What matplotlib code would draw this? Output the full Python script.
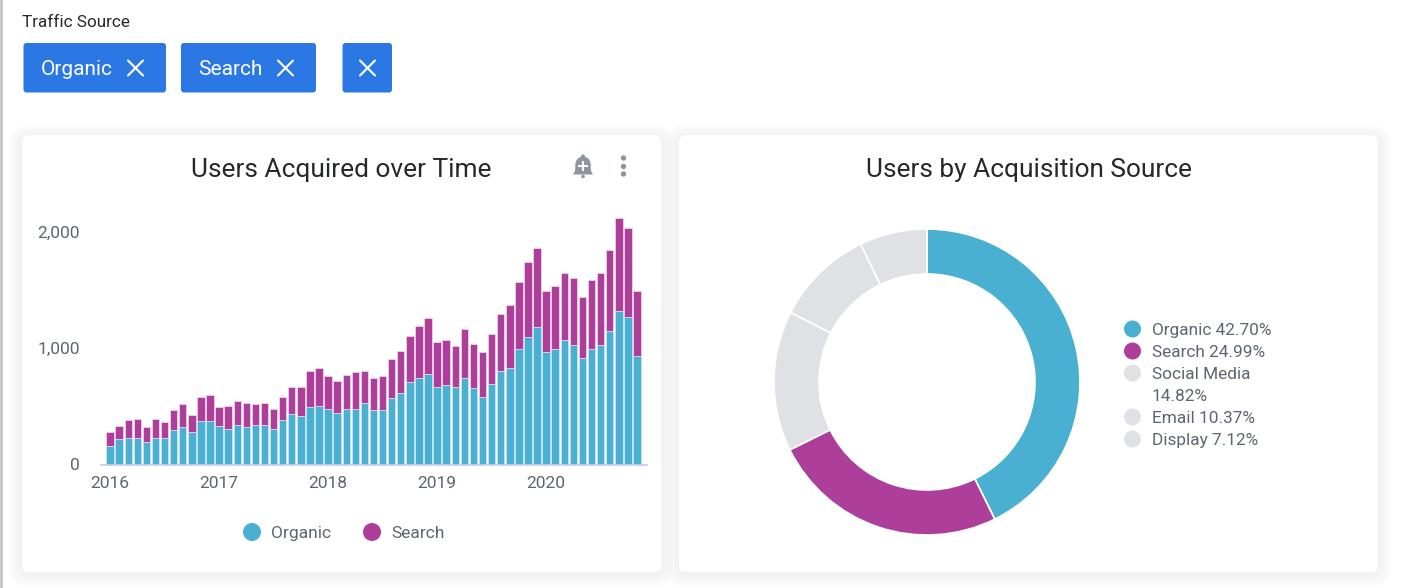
import matplotlib
matplotlib.use('Agg')
import matplotlib.pyplot as plt
from matplotlib.patches import FancyBboxPatch, Circle, Polygon, Rectangle
from matplotlib.transforms import ScaledTranslation
import numpy as np

W, H = 1403, 588

organic = [158, 219, 233, 233, 196, 233, 233, 297, 320, 282, 372, 372,
           334, 308, 343, 320, 343, 343, 308, 383, 435, 421, 496, 507,
           481, 447, 481, 481, 533, 470, 470, 571, 622, 709, 746, 784,
           671, 683, 671, 746, 660, 582, 697, 810, 836, 997, 1098, 1187,
           971, 997, 1072, 1037, 922, 997, 1037, 1150, 1326, 1274, 937]
search = [124, 112, 150, 161, 124, 161, 138, 173, 202, 150, 213, 225,
          161, 199, 205, 213, 179, 190, 173, 202, 236, 251, 314, 329,
          280, 274, 291, 317, 277, 277, 291, 340, 363, 403, 452, 478,
          389, 389, 352, 429, 378, 392, 427, 490, 539, 579, 654, 680,
          530, 542, 579, 576, 527, 594, 614, 703, 804, 769, 565]
year_labels = ['2016', '2017', '2018', '2019', '2020']
year_ticks = [0, 12, 24, 36, 48]
y_ticks = [0, 1000, 2000]

sources = ['Organic', 'Search', 'Social Media', 'Email', 'Display']
shares = [42.70, 24.99, 14.82, 10.37, 7.12]

BLUE = '#4ab0d1'
PURPLE = '#ad3f9a'
GRAY = '#e0e1e5'
CHIP = '#2b78e4'
TEXT = '#26282c'
MUTED = '#5f6570'

plt.rcParams['font.family'] = ['Roboto', 'DejaVu Sans']

fig = plt.figure(figsize=(W / 100, H / 100), dpi=100, facecolor='white')


def px_axes(left, top, right, bottom):
    return fig.add_axes([left / W, 1 - bottom / H, (right - left) / W, (bottom - top) / H])


# page furniture in pixel coordinates
bg = fig.add_axes([0, 0, 1, 1], zorder=0)
bg.set_xlim(0, W)
bg.set_ylim(H, 0)
bg.axis('off')
bg.add_patch(Rectangle((0, 0), 2.5, H, color='#c9c9c9', lw=0))


def rrect(x0, y0, x1, y1, r, **kw):
    p = FancyBboxPatch((x0 + r, y0 + r), x1 - x0 - 2 * r, y1 - y0 - 2 * r,
                       boxstyle=f'round,pad={r},rounding_size={r}', **kw)
    bg.add_patch(p)


def card(x0, y0, x1, y1):
    for s in range(14, 0, -1):
        rrect(x0 - s, y0 - s + 2, x1 + s, y1 + s + 2, 7 + s, fc='#000000', ec='none', alpha=0.0035)
    rrect(x0, y0, x1, y1, 7, fc='white', ec='none')


def cross(cx, cy, r=7.5):
    bg.plot([cx - r, cx + r], [cy - r, cy + r], color='white', lw=1.5, solid_capstyle='round')
    bg.plot([cx - r, cx + r], [cy + r, cy - r], color='white', lw=1.5, solid_capstyle='round')


bg.text(22, 27, 'Traffic Source', fontsize=12.3, color=TEXT, va='baseline')
rrect(23.5, 43, 166, 92.5, 3, fc=CHIP, ec='none')
rrect(181, 43, 316, 92.5, 3, fc=CHIP, ec='none')
rrect(342.5, 43, 392, 92.5, 3, fc=CHIP, ec='none')
bg.text(41, 75, 'Organic', fontsize=15, color='white', va='baseline')
bg.text(198, 75, 'Search', fontsize=15, color='white', va='baseline')
cross(135.5, 68)
cross(285.5, 68)
cross(367.5, 68)

card(22, 135, 661, 572)
card(679, 135, 1378, 572)

bg.text(341.5, 177, 'Users Acquired over Time', fontsize=18.95, color=TEXT, ha='center', va='baseline')
bg.text(1028.5, 177, 'Users by Acquisition Source', fontsize=18.95, color=TEXT, ha='center', va='baseline')

# bell and menu icons
ICON = '#8f959e'
bg.add_patch(Circle((583, 164), 7.5, color=ICON, lw=0))
bg.add_patch(Polygon([(575.5, 164), (590.5, 164), (591, 171), (593, 174.5), (573, 174.5), (575, 171)],
                     color=ICON, lw=0))
bg.add_patch(Circle((583, 156.5), 2, color=ICON, lw=0))
bg.add_patch(Circle((583, 176.5), 1.8, color=ICON, lw=0))
bg.plot([579, 587], [166, 166], color='white', lw=1.5)
bg.plot([583, 583], [162, 170], color='white', lw=1.5)
for cy in (158, 166.5, 174):
    bg.add_patch(Circle((623.5, cy), 2.7, color=ICON, lw=0))

# stacked bars
ax = px_axes(101, 200, 646.5, 464.5)
ax.patch.set_alpha(0)
ax.set_zorder(1)
x = np.arange(len(organic))
ax.bar(x, organic, width=0.82, color=BLUE, edgecolor='#d6eaf2', linewidth=0.4)
ax.bar(x, search, bottom=organic, width=0.82, color=PURPLE, edgecolor='#ecd2e7', linewidth=0.6)
ax.set_xlim(-1, 59.05)
ax.set_ylim(0, 264.5 / 0.1157)
for side in ('top', 'right', 'left'):
    ax.spines[side].set_visible(False)
ax.spines['bottom'].set_color('#c5cde8')
ax.spines['bottom'].set_linewidth(1.2)
ax.set_xticks(year_ticks, year_labels)
ax.set_yticks(y_ticks, [f'{v:,}' for v in y_ticks])
ax.tick_params(axis='x', length=0, pad=8, labelsize=12.5, labelcolor=MUTED)
ax.tick_params(axis='y', length=0, pad=15, labelsize=12.5, labelcolor=MUTED)
# y labels sit a pixel above their gridless ticks in the original
nudge = ScaledTranslation(0, 1 / 100, fig.dpi_scale_trans)
for lab in ax.get_yticklabels():
    lab.set_transform(lab.get_transform() + nudge)

for cx, name, color in ((252, sources[0], BLUE), (372, sources[1], PURPLE)):
    bg.add_patch(Circle((cx, 532), 9, color=color, lw=0))
    bg.text(cx + 19, 538, name, fontsize=12.5, color=MUTED, va='baseline')

# donut
pie_ax = px_axes(927 - 155, 382 - 155, 927 + 155, 382 + 155)
pie_ax.patch.set_alpha(0)
pie_ax.set_zorder(1)
pie_ax.pie(shares, colors=[BLUE, PURPLE, GRAY, GRAY, GRAY], startangle=90, counterclock=False, radius=153 / 155,
           wedgeprops={'width': 45 / 155, 'edgecolor': 'white', 'linewidth': 1.2})
pie_ax.set_xlim(-1, 1)
pie_ax.set_ylim(-1, 1)

rows = [329, 351, 373, 417, 439]
for cy, name, share, color in zip(rows, sources, shares, [BLUE, PURPLE, GRAY, GRAY, GRAY]):
    bg.add_patch(Circle((1132.5, cy), 8.5, color=color, lw=0))
    if name == 'Social Media':
        bg.text(1151.5, cy + 6, name, fontsize=12.4, color=MUTED, va='baseline')
        bg.text(1151.5, cy + 28, f'{share:.2f}%', fontsize=12.4, color=MUTED, va='baseline')
    else:
        bg.text(1151.5, cy + 6, f'{name} {share:.2f}%', fontsize=12.4, color=MUTED, va='baseline')

fig.savefig('out.png', dpi=100)
plt.close(fig)
